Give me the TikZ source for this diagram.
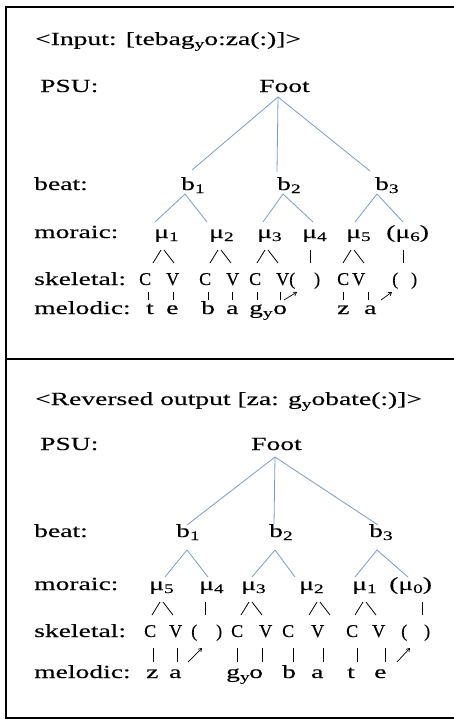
\documentclass[tikz,border=0pt]{standalone}
\usepackage{fontspec}
\setmainfont[FakeStretch=1.49,FakeBold=0.3]{Liberation Serif}
\newfontfamily\skfont[FakeBold=0.3]{Liberation Serif}
\usetikzlibrary{arrows.meta}
\definecolor{treeblue}{RGB}{120,155,205}
\newcommand\fs{\fontsize{18.5}{21}\selectfont}
\newcommand\sbs[1]{\raisebox{-3pt}{\fontsize{13}{13}\selectfont #1}}
\newcommand\sk{\skfont\fontsize{18}{20}\selectfont}
\begin{document}
\begin{tikzpicture}[x=1pt,y=-1pt,
  txt/.style={anchor=base west,inner sep=0pt,font=\fs},
  sktxt/.style={anchor=base west,inner sep=0pt,font=\sk},
  tree/.style={draw=treeblue,line width=0.8pt},
  assoc/.style={draw=black,line width=0.8pt},
  arr/.style={draw=black,line width=0.7pt,-{Straight Barb[length=3pt,width=4pt]}},
  frame/.style={draw=black,line width=1.5pt}]
\useasboundingbox (0,0) rectangle (453,720);
\draw[frame] (6,7) rectangle (460,718);
\draw[frame] (6,359) -- (460,359);

% ================= TOP PANEL =================
\node[txt] (Ttitle) at (35,45) {<Input: [tebag\sbs{y}o:za(:)]>};
\node[txt] (Tpsu) at (40,92) {PSU:};
\node[txt] (Tfoot) at (259,92) {Foot};
\node[txt] (Tbeat) at (34,190) {beat:};
\node[txt] (Tb1) at (181,190) {b\sbs{1}};
\node[txt] (Tb2) at (277,190) {b\sbs{2}};
\node[txt] (Tb3) at (375,190) {b\sbs{3}};
\node[txt] (Tmor) at (34,238) {moraic:};
\node[txt] (Tmu1) at (154,238) {μ\sbs{1}};
\node[txt] (Tmu2) at (209,238) {μ\sbs{2}};
\node[txt] (Tmu3) at (257,238) {μ\sbs{3}};
\node[txt] (Tmu4) at (302,238) {μ\sbs{4}};
\node[txt] (Tmu5) at (346,238) {μ\sbs{5}};
\node[txt] (Tmu6) at (386,238) {(μ\sbs{6})};
\node[txt] (Tskel) at (34,285) {skeletal:};
\node[sktxt] (TC1) at (139,285) {C};
\node[sktxt] (TV1) at (166,285) {V};
\node[sktxt] (TC2) at (199,285) {C};
\node[sktxt] (TV2) at (226,285) {V};
\node[sktxt] (TC3) at (249,285) {C};
\node[sktxt] (TV3) at (276,285) {V};
\node[sktxt] (TE1) at (289,285) {(\hspace{19pt})};
\node[sktxt] (TC4) at (337,285) {C};
\node[sktxt] (TV4) at (352,285) {V};
\node[sktxt] (TE2) at (392,285) {(\hspace{13pt})};
\node[txt] (Tmel) at (34,314) {melodic:};
\node[txt] (Tt) at (146,314) {t};
\node[txt] (Te) at (166,314) {e};
\node[txt] (Tbm) at (201,314) {b};
\node[txt] (Ta) at (226,314) {a};
\node[txt] (Tg) at (249,314) {g\sbs{y}};
\node[txt] (To) at (273,314) {o};
\node[txt] (Tz) at (337,314) {z};
\node[txt] (Ta2) at (364,314) {a};

% tree
\draw[tree] ([shift={(19,5)}]Tfoot.base west) -- ([shift={(11,-20)}]Tb1.base west);
\draw[tree] ([shift={(19,5)}]Tfoot.base west) -- ([shift={(0,-18)}]Tb2.base west);
\draw[tree] ([shift={(19,5)}]Tfoot.base west) -- ([shift={(-5,-19)}]Tb3.base west);
\draw[tree] ([shift={(4,4)}]Tb1.base west) -- ([shift={(1,-16)}]Tmu1.base west);
\draw[tree] ([shift={(4,4)}]Tb1.base west) -- ([shift={(-2,-16)}]Tmu2.base west);
\draw[tree] ([shift={(6,4)}]Tb2.base west) -- ([shift={(6,-16)}]Tmu3.base west);
\draw[tree] ([shift={(6,4)}]Tb2.base west) -- ([shift={(11,-16)}]Tmu4.base west);
\draw[tree] ([shift={(2,4)}]Tb3.base west) -- ([shift={(9,-16)}]Tmu5.base west);
\draw[tree] ([shift={(2,4)}]Tb3.base west) -- ([shift={(17,-16)}]Tmu6.base west);

% mora to skeleton
\draw[assoc] ([shift={(7,12)}]Tmu1.base west) -- ([shift={(14,-22)}]TC1.base west);
\draw[assoc] ([shift={(10,12)}]Tmu1.base west) -- ([shift={(8,-22)}]TV1.base west);
\draw[assoc] ([shift={(9,12)}]Tmu2.base west) -- ([shift={(11,-22)}]TC2.base west);
\draw[assoc] ([shift={(12,12)}]Tmu2.base west) -- ([shift={(5,-22)}]TV2.base west);
\draw[assoc] ([shift={(8,12)}]Tmu3.base west) -- ([shift={(8,-22)}]TC3.base west);
\draw[assoc] ([shift={(11,12)}]Tmu3.base west) -- ([shift={(2,-22)}]TV3.base west);
\draw[assoc] ([shift={(8,12)}]Tmu4.base west) -- ([shift={(21,-22)}]TE1.base west);
\draw[assoc] ([shift={(5,12)}]Tmu5.base west) -- ([shift={(6,-22)}]TC4.base west);
\draw[assoc] ([shift={(8,12)}]Tmu5.base west) -- ([shift={(12,-22)}]TV4.base west);
\draw[assoc] ([shift={(17,12)}]Tmu6.base west) -- ([shift={(11,-22)}]TE2.base west);

% skeleton to melody
\draw[assoc] ([shift={(9,7)}]TC1.base west) -- ([shift={(2,-14)}]Tt.base west);
\draw[assoc] ([shift={(7,7)}]TV1.base west) -- ([shift={(7,-14)}]Te.base west);
\draw[assoc] ([shift={(9,7)}]TC2.base west) -- ([shift={(7,-14)}]Tbm.base west);
\draw[assoc] ([shift={(6,7)}]TV2.base west) -- ([shift={(6,-14)}]Ta.base west);
\draw[assoc] ([shift={(8,7)}]TC3.base west) -- ([shift={(8,-14)}]Tg.base west);
\draw[assoc] ([shift={(4,7)}]TV3.base west) -- ([shift={(7,-14)}]To.base west);
\draw[arr] ([shift={(11,-14)}]To.base west) -- ([shift={(8,7)}]TE1.base west);
\draw[assoc] ([shift={(6,7)}]TC4.base west) -- ([shift={(6,-14)}]Tz.base west);
\draw[assoc] ([shift={(16,7)}]TV4.base west) -- ([shift={(4,-14)}]Ta2.base west);
\draw[arr] ([shift={(17,-14)}]Ta2.base west) -- ([shift={(0,7)}]TE2.base west);

% ================= BOTTOM PANEL =================
\node[txt] (Btitle) at (35,405) {<Reversed output [za: g\sbs{y}obate(:)]>};
\node[txt] (Bpsu) at (40,450) {PSU:};
\node[txt] (Bfoot) at (251,450) {Foot};
\node[txt] (Bbeat) at (34,537) {beat:};
\node[txt] (Bb1) at (176,537) {b\sbs{1}};
\node[txt] (Bb2) at (269,537) {b\sbs{2}};
\node[txt] (Bb3) at (369,537) {b\sbs{3}};
\node[txt] (Bmor) at (34,590) {moraic:};
\node[txt] (Bmu5) at (149,590) {μ\sbs{5}};
\node[txt] (Bmu4) at (199,590) {μ\sbs{4}};
\node[txt] (Bmu3) at (241,590) {μ\sbs{3}};
\node[txt] (Bmu2) at (299,590) {μ\sbs{2}};
\node[txt] (Bmu1) at (352,590) {μ\sbs{1}};
\node[txt] (Bmu0) at (389,590) {(μ\sbs{0})};
\node[txt] (Bskel) at (34,637) {skeletal:};
\node[sktxt] (BC1) at (144,637) {C};
\node[sktxt] (BV1) at (169,637) {V};
\node[sktxt] (BE1) at (191,637) {(\hspace{19pt})};
\node[sktxt] (BC2) at (231,637) {C};
\node[sktxt] (BV2) at (259,637) {V};
\node[sktxt] (BC3) at (282,637) {C};
\node[sktxt] (BV3) at (311,637) {V};
\node[sktxt] (BC4) at (346,637) {C};
\node[sktxt] (BV4) at (372,637) {V};
\node[sktxt] (BE2) at (401,637) {(\hspace{17pt})};
\node[txt] (Bmel) at (34,678) {melodic:};
\node[txt] (Bz) at (146,678) {z};
\node[txt] (Ba1) at (169,678) {a};
\node[txt] (Bg) at (226,678) {g\sbs{y}};
\node[txt] (Bo) at (249,678) {o};
\node[txt] (Bbm) at (282,678) {b};
\node[txt] (Ba2) at (311,678) {a};
\node[txt] (Bt) at (347,678) {t};
\node[txt] (Be) at (374,678) {e};

% tree
\draw[tree] ([shift={(24,7)}]Bfoot.base west) -- ([shift={(11,-12)}]Bb1.base west);
\draw[tree] ([shift={(24,7)}]Bfoot.base west) -- ([shift={(5,-13)}]Bb2.base west);
\draw[tree] ([shift={(24,7)}]Bfoot.base west) -- ([shift={(9,-12)}]Bb3.base west);
\draw[tree] ([shift={(11,13)}]Bb1.base west) -- ([shift={(16,-13)}]Bmu5.base west);
\draw[tree] ([shift={(11,13)}]Bb1.base west) -- ([shift={(9,-13)}]Bmu4.base west);
\draw[tree] ([shift={(6,13)}]Bb2.base west) -- ([shift={(11,-13)}]Bmu3.base west);
\draw[tree] ([shift={(6,13)}]Bb2.base west) -- ([shift={(-4,-13)}]Bmu2.base west);
\draw[tree] ([shift={(8,13)}]Bb3.base west) -- ([shift={(3,-13)}]Bmu1.base west);
\draw[tree] ([shift={(8,13)}]Bb3.base west) -- ([shift={(19,-13)}]Bmu0.base west);

% mora to skeleton
\draw[assoc] ([shift={(11,12)}]Bmu5.base west) -- ([shift={(8,-22)}]BC1.base west);
\draw[assoc] ([shift={(14,12)}]Bmu5.base west) -- ([shift={(4,-22)}]BV1.base west);
\draw[assoc] ([shift={(6,12)}]Bmu4.base west) -- ([shift={(14,-22)}]BE1.base west);
\draw[assoc] ([shift={(8,12)}]Bmu3.base west) -- ([shift={(10,-22)}]BC2.base west);
\draw[assoc] ([shift={(11,12)}]Bmu3.base west) -- ([shift={(3,-22)}]BV2.base west);
\draw[assoc] ([shift={(18,12)}]Bmu2.base west) -- ([shift={(27,-22)}]BC3.base west);
\draw[assoc] ([shift={(21,12)}]Bmu2.base west) -- ([shift={(19,-22)}]BV3.base west);
\draw[assoc] ([shift={(11,12)}]Bmu1.base west) -- ([shift={(9,-22)}]BC4.base west);
\draw[assoc] ([shift={(14,12)}]Bmu1.base west) -- ([shift={(4,-22)}]BV4.base west);
\draw[assoc] ([shift={(33,12)}]Bmu0.base west) -- ([shift={(21,-22)}]BE2.base west);

% skeleton to melody
\draw[assoc] ([shift={(9,11)}]BC1.base west) -- ([shift={(7,-16)}]Bz.base west);
\draw[assoc] ([shift={(8,11)}]BV1.base west) -- ([shift={(8,-16)}]Ba1.base west);
\draw[arr] ([shift={(19,-16)}]Ba1.base west) -- ([shift={(11,11)}]BE1.base west);
\draw[assoc] ([shift={(6,11)}]BC2.base west) -- ([shift={(11,-16)}]Bg.base west);
\draw[assoc] ([shift={(3,11)}]BV2.base west) -- ([shift={(13,-16)}]Bo.base west);
\draw[assoc] ([shift={(11,11)}]BC3.base west) -- ([shift={(11,-16)}]Bbm.base west);
\draw[assoc] ([shift={(12,11)}]BV3.base west) -- ([shift={(12,-16)}]Ba2.base west);
\draw[assoc] ([shift={(11,11)}]BC4.base west) -- ([shift={(10,-16)}]Bt.base west);
\draw[assoc] ([shift={(13,11)}]BV4.base west) -- ([shift={(11,-16)}]Be.base west);
\draw[arr] ([shift={(23,-16)}]Be.base west) -- ([shift={(9,11)}]BE2.base west);
\end{tikzpicture}
\end{document}
